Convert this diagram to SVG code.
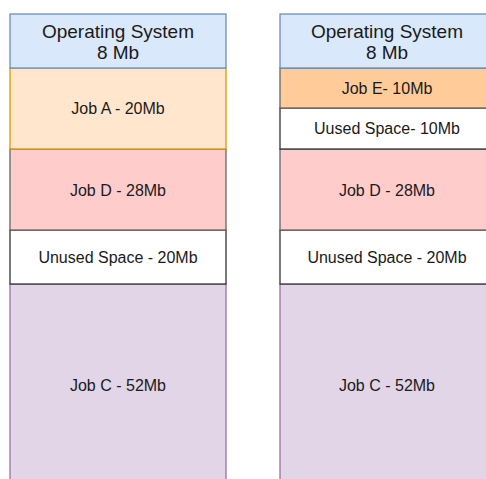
<svg xmlns="http://www.w3.org/2000/svg" width="486" height="479" viewBox="0 0 486 479">
<style>
text{font-family:"Liberation Sans",Arial,sans-serif;fill:#1a1a1a;text-anchor:middle;dominant-baseline:central}
.t14{font-size:16px}
.t16{font-size:19px}
.os{fill:#dae8fc;stroke:#6c8ebf}
.ja{fill:#ffe6cc;stroke:#d79b00}
.jd{fill:#ffcccc;stroke:#666666}
.un{fill:#ffffff;stroke:#333333}
.jc{fill:#e1d5e7;stroke:#9673a6}
.je{fill:#ffcc99;stroke:#666666}
rect{stroke-width:1.3}
</style>
<rect width="486" height="479" fill="#ffffff"/>
<g id="left">
<g id="l-c"><rect class="jc" x="10" y="284" width="216" height="210"/><text class="t14" x="118" y="385">Job C - 52Mb</text></g>
<g id="l-u"><rect class="un" x="10" y="230" width="216" height="54"/><text class="t14" x="118" y="257">Unused Space - 20Mb</text></g>
<g id="l-d"><rect class="jd" x="10" y="149" width="216" height="81"/><text class="t14" x="118" y="190">Job D - 28Mb</text></g>
<g id="l-a"><rect class="ja" x="10" y="68" width="216" height="81"/><text class="t14" x="118" y="108">Job A - 20Mb</text></g>
<g id="l-os"><rect class="os" x="10" y="14" width="216" height="54"/><text class="t16" x="118" y="31">Operating System</text><text class="t16" x="118" y="52">8 Mb</text></g>
</g>
<g id="right">
<g id="r-c"><rect class="jc" x="280" y="284" width="216" height="210"/><text class="t14" x="387" y="385">Job C - 52Mb</text></g>
<g id="r-u"><rect class="un" x="280" y="230" width="216" height="54"/><text class="t14" x="387" y="257">Unused Space - 20Mb</text></g>
<g id="r-d"><rect class="jd" x="280" y="149" width="216" height="81"/><text class="t14" x="387" y="190">Job D - 28Mb</text></g>
<g id="r-u2"><rect class="un" x="280" y="108" width="216" height="41"/><text class="t14" x="387" y="128">Uused Space- 10Mb</text></g>
<g id="r-e"><rect class="je" x="280" y="68" width="216" height="40"/><text class="t14" x="387" y="88">Job E- 10Mb</text></g>
<g id="r-os"><rect class="os" x="280" y="14" width="216" height="54"/><text class="t16" x="387" y="31">Operating System</text><text class="t16" x="387" y="52">8 Mb</text></g>
</g>
<g id="connectors"/>
</svg>
